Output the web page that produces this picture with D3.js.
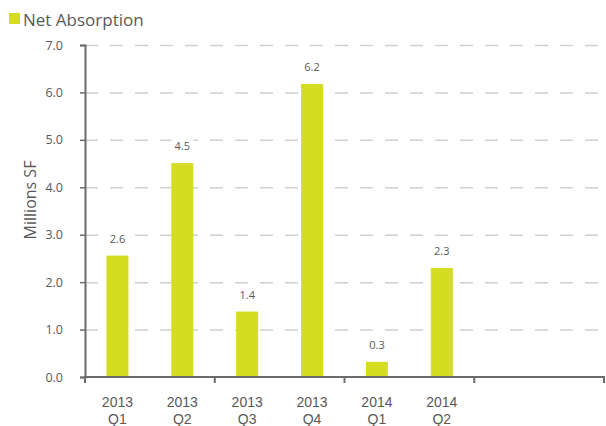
<!DOCTYPE html>
<html lang="en">
<head>
	<meta charset="utf-8">
	<title>Net Absorption</title>
	<script type="text/javascript" src="https://cdn.jsdelivr.net/npm/d3@7/dist/d3.min.js" charset="utf-8"></script>
	<style>
		body { margin: 0; background: #fff; }
		text { font-family: "Open Sans", sans-serif; fill: #595959; }
	</style>
</head>
<body>
	<div id="chart"></div>
	<script type="text/javascript">
		// chart data
		var years = ["2013", "2013", "2013", "2013", "2014", "2014"];
		var quarters = ["Q1", "Q2", "Q3", "Q4", "Q1", "Q2"];
		var netAbsorption = [2.56, 4.51, 1.38, 6.18, 0.32, 2.30];
		var yTicks = [0, 1, 2, 3, 4, 5, 6, 7];
		var slotCount = 8; // axis leaves two empty slots after the last quarter

		var margin = {top: 45, right: 2, bottom: 49, left: 85};
		var width = 606 - margin.left - margin.right;
		var height = 426 - margin.top - margin.bottom;

		var svg = d3.select("#chart")
					.append("svg")
					.attr("width", 606)
					.attr("height", 426);

		var g = svg.append("g")
					.attr("transform", "translate(" + margin.left + "," + margin.top + ")");

		var xScale = d3.scaleBand()
						.domain(d3.range(slotCount))
						.range([0, width]);

		var yScale = d3.scaleLinear()
						.domain([0, 7])
						.range([height, 0]);

		function center(i) { return xScale(i) + xScale.bandwidth() / 2; }

		// dashed grid lines
		var grid = g.append("g")
					.attr("class", "grid")
					.call(d3.axisLeft(yScale).tickValues(yTicks.slice(1)).tickSize(-width).tickFormat(""));
		grid.select(".domain").remove();
		grid.selectAll("line")
			.attr("stroke", "#d0d0d0")
			.attr("stroke-width", 1.5)
			.attr("stroke-dasharray", "13,12");

		// bars
		g.selectAll("rect.bar")
			.data(netAbsorption)
			.enter()
			.append("rect")
			.attr("class", "bar")
			.attr("x", function(d, i) { return center(i) - 11; })
			.attr("y", function(d) { return yScale(d); })
			.attr("width", 22)
			.attr("height", function(d) { return height - yScale(d); })
			.style("fill", "#d5dd22");

		// value labels with white backing
		var vals = g.selectAll("g.value")
					.data(netAbsorption)
					.enter()
					.append("g")
					.attr("class", "value")
					.attr("transform", function(d, i) { return "translate(" + center(i) + "," + (yScale(d) - 13) + ")"; });
		vals.append("rect")
			.attr("x", -11).attr("y", -11)
			.attr("width", 22).attr("height", 14)
			.style("fill", "#fff");
		vals.append("text")
			.attr("text-anchor", "middle")
			.style("font-size", "11px")
			.text(function(d) { return d.toFixed(1); });

		// y axis
		var yAxis = d3.axisLeft(yScale)
						.tickValues(yTicks)
						.tickSize(5)
						.tickPadding(17)
						.tickFormat(d3.format(".1f"));
		var yG = g.append("g").attr("class", "axis").call(yAxis);
		yG.select(".domain").attr("stroke", "#6b6b6b").attr("stroke-width", 2);
		yG.selectAll("line").attr("stroke", "#6b6b6b").attr("stroke-width", 1.5);
		yG.selectAll("text").style("font-size", "12.5px").style("fill", "#595959");

		// x axis: tick every second slot
		var xG = g.append("g")
					.attr("transform", "translate(0," + height + ")");
		xG.append("line")
			.attr("x1", 0).attr("x2", width)
			.attr("stroke", "#6b6b6b")
			.attr("stroke-width", 2);
		xG.selectAll("line.tick")
			.data(d3.range(0, slotCount + 1, 2))
			.enter()
			.append("line")
			.attr("class", "tick")
			.attr("x1", function(d) { return d < slotCount ? xScale(d) : width; })
			.attr("x2", function(d) { return d < slotCount ? xScale(d) : width; })
			.attr("y1", -1)
			.attr("y2", 6)
			.attr("stroke", "#6b6b6b")
			.attr("stroke-width", 2);

		xG.selectAll("text.year")
			.data(years)
			.enter()
			.append("text")
			.attr("class", "year")
			.attr("x", function(d, i) { return center(i); })
			.attr("y", 30)
			.attr("text-anchor", "middle")
			.style("font-family", "'Liberation Sans', sans-serif")
			.style("font-size", "14px")
			.text(function(d) { return d; });
		xG.selectAll("text.quarter")
			.data(quarters)
			.enter()
			.append("text")
			.attr("class", "quarter")
			.attr("x", function(d, i) { return center(i); })
			.attr("y", 46.5)
			.attr("text-anchor", "middle")
			.style("font-family", "'Liberation Sans', sans-serif")
			.style("font-size", "14px")
			.text(function(d) { return d; });

		// axis title
		svg.append("text")
			.attr("transform", "translate(36,200) rotate(-90)")
			.attr("text-anchor", "middle")
			.style("font-size", "16px")
			.text("Millions SF");

		// legend
		var legend = svg.append("g");
		legend.append("rect")
			.attr("x", 9).attr("y", 13)
			.attr("width", 11).attr("height", 11)
			.style("fill", "#d5dd22");
		legend.append("text")
			.attr("x", 23).attr("y", 25.5)
			.style("font-size", "17px")
			.text("Net Absorption");
	</script>
</body>
</html>
